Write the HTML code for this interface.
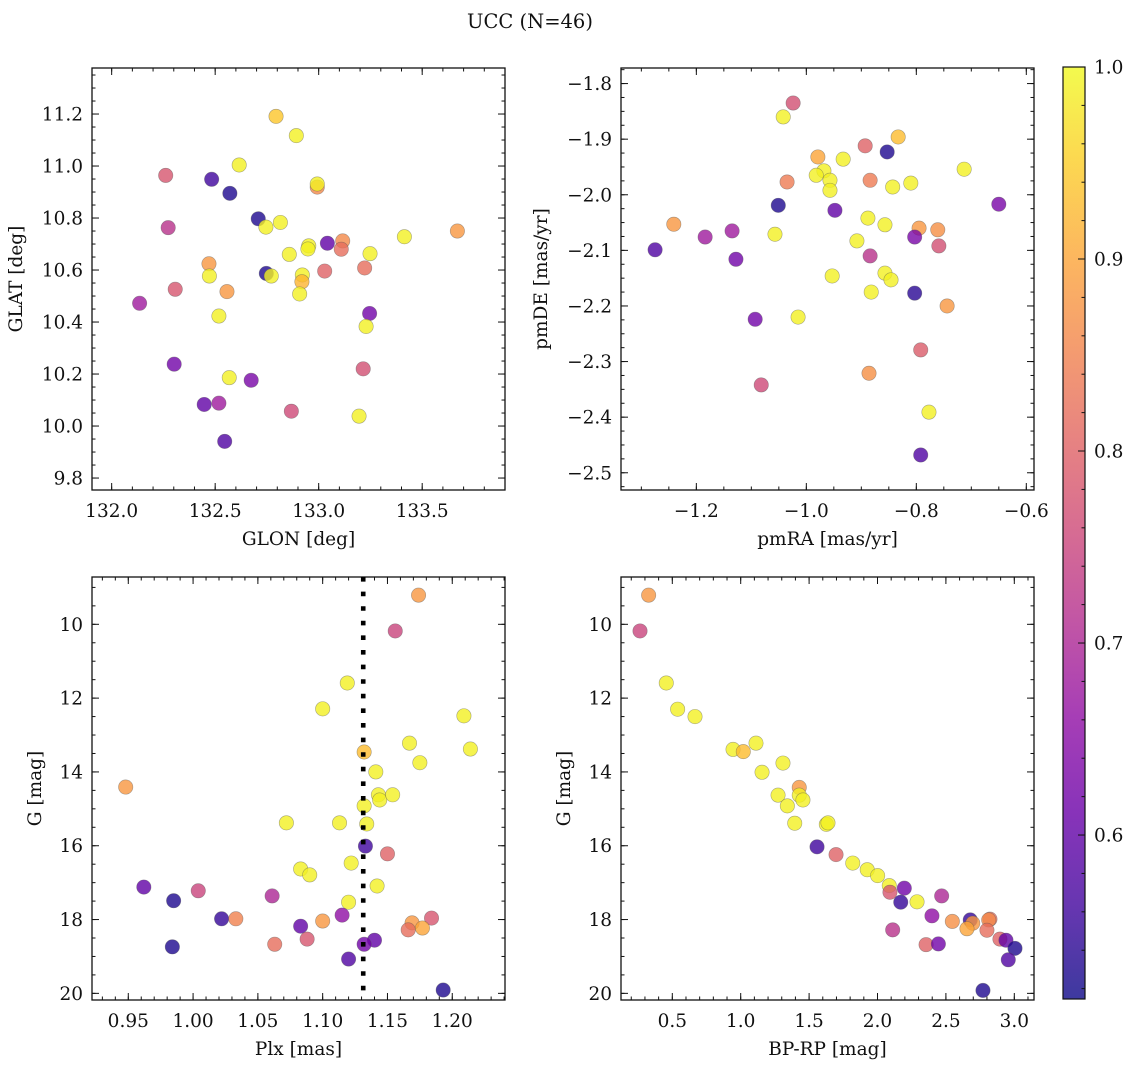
<!DOCTYPE html>
<html><head><meta charset="utf-8">
<style>
html,body{margin:0;padding:0;background:#fff;}
svg{display:block;font-family:"DejaVu Serif","Liberation Serif",serif;}
</style></head>
<body>
<svg id="fig" width="1135" height="1067" viewBox="0 0 1135 1067" xmlns="http://www.w3.org/2000/svg">
<text x="530" y="28" font-size="19.5" text-anchor="middle" fill="#111">UCC (N=46)</text>
</svg>
<script>
// ---------- data ----------
const p1_glon=[132.794,132.892,132.616,132.261,132.483,132.571,132.993,132.993,132.708,132.745,132.815,132.273,133.414,133.670,133.042,133.116,133.109,132.952,132.948,132.858,133.248,132.470,132.472,132.747,132.771,132.921,132.919,132.908,133.029,133.222,132.307,132.557,132.135,132.518,133.246,133.229,132.302,133.215,132.568,132.674,132.447,132.518,132.868,133.195,132.546];
const p1_glat=[11.191,11.117,11.004,10.964,10.949,10.895,10.919,10.931,10.797,10.765,10.783,10.763,10.728,10.750,10.703,10.712,10.680,10.693,10.681,10.660,10.663,10.624,10.577,10.587,10.577,10.581,10.555,10.508,10.596,10.608,10.526,10.517,10.472,10.423,10.433,10.383,10.238,10.220,10.186,10.176,10.083,10.088,10.057,10.038,9.941];
const p1_prob=[0.94,0.99,0.99,0.78,0.56,0.53,0.86,0.99,0.53,0.99,0.99,0.72,0.99,0.88,0.60,0.86,0.82,0.99,0.99,0.99,0.99,0.88,0.99,0.53,0.99,0.99,0.92,0.99,0.80,0.82,0.78,0.88,0.68,0.99,0.62,0.99,0.62,0.77,0.99,0.63,0.60,0.68,0.76,0.99,0.58];

const p2_pmra=[-1.024,-1.042,-0.833,-0.893,-0.853,-0.979,-0.933,-0.968,-0.982,-0.957,-0.957,-1.035,-0.884,-0.843,-0.810,-0.713,-1.051,-0.948,-0.650,-1.241,-1.184,-1.135,-1.275,-1.128,-1.057,-0.888,-0.857,-0.795,-0.761,-0.803,-0.759,-0.908,-0.884,-0.953,-0.857,-0.846,-0.882,-0.803,-0.744,-1.093,-1.015,-0.792,-0.886,-1.082,-0.777,-0.792];
const p2_pmde=[-1.835,-1.860,-1.896,-1.912,-1.923,-1.932,-1.936,-1.957,-1.965,-1.974,-1.992,-1.977,-1.974,-1.986,-1.979,-1.954,-2.019,-2.028,-2.017,-2.053,-2.076,-2.065,-2.099,-2.116,-2.071,-2.042,-2.054,-2.060,-2.063,-2.076,-2.092,-2.083,-2.110,-2.146,-2.141,-2.153,-2.175,-2.177,-2.200,-2.224,-2.220,-2.279,-2.321,-2.342,-2.391,-2.468];
const p2_prob=[0.77,0.99,0.93,0.80,0.53,0.90,0.99,0.99,0.99,0.99,0.99,0.84,0.84,0.99,0.99,0.99,0.53,0.60,0.63,0.88,0.68,0.68,0.58,0.62,0.99,0.99,0.99,0.88,0.87,0.63,0.77,0.99,0.72,0.99,0.99,0.99,0.99,0.54,0.88,0.62,0.99,0.79,0.87,0.76,0.99,0.58];

const p3_plx=[1.174,1.156,1.119,1.100,1.209,1.214,1.167,1.132,1.175,1.141,1.143,1.144,1.154,1.132,1.072,1.113,1.134,1.133,1.150,1.122,1.083,1.090,1.142,1.120,1.061,1.115,1.083,1.100,1.088,1.063,1.184,1.169,1.166,1.177,1.140,1.132,1.120,1.193,0.948,0.962,1.004,0.985,1.022,1.033,0.984];
const p3_g=[9.21,10.18,11.59,12.29,12.48,13.38,13.22,13.46,13.75,14.00,14.62,14.76,14.62,14.92,15.38,15.38,15.41,16.01,16.22,16.47,16.63,16.79,17.09,17.53,17.36,17.88,18.18,18.04,18.53,18.67,17.96,18.09,18.28,18.23,18.56,18.67,19.07,19.91,14.41,17.12,17.22,17.49,17.98,17.98,18.74];
const p3_prob=[0.88,0.75,0.99,0.99,0.99,0.99,0.99,0.93,0.99,0.99,0.99,0.99,0.99,0.99,0.99,0.99,0.99,0.56,0.80,0.99,0.99,0.99,0.99,0.99,0.70,0.66,0.60,0.88,0.78,0.82,0.78,0.88,0.82,0.90,0.60,0.62,0.58,0.53,0.88,0.60,0.75,0.53,0.55,0.85,0.53];
const p3_cut=[1.1313];

const p4_bprp=[0.327,0.264,0.456,0.539,0.666,0.944,1.019,1.112,1.156,1.309,1.428,1.428,1.455,1.273,1.341,1.395,1.626,1.638,1.558,1.697,1.819,1.925,2.001,2.086,2.091,2.196,2.170,2.289,2.469,2.398,2.547,2.678,2.696,2.654,2.822,2.813,2.800,2.111,2.355,2.445,2.895,2.939,3.005,2.956,2.771];
const p4_g=[9.21,10.18,11.59,12.30,12.50,13.39,13.45,13.22,14.01,13.76,14.42,14.63,14.76,14.63,14.92,15.39,15.42,15.38,16.03,16.24,16.47,16.65,16.81,17.08,17.26,17.15,17.53,17.52,17.36,17.90,18.05,18.01,18.10,18.25,17.99,18.01,18.29,18.28,18.68,18.66,18.53,18.56,18.78,19.09,19.92];
const p4_prob=[0.88,0.75,0.99,0.99,0.99,0.99,0.93,0.99,0.99,0.99,0.88,0.99,0.99,0.99,0.99,0.99,0.99,0.99,0.56,0.80,0.99,0.99,0.99,0.99,0.78,0.62,0.55,0.99,0.70,0.66,0.87,0.55,0.88,0.90,0.82,0.86,0.82,0.72,0.80,0.62,0.80,0.60,0.53,0.58,0.53];

const p1_xticks=[132.0,132.5,133.0,133.5];
const p1_yticks=[9.8,10.0,10.2,10.4,10.6,10.8,11.0,11.2];
const p2_xticks=[-1.2,-1.0,-0.8,-0.6];
const p2_yticks=[-2.5,-2.4,-2.3,-2.2,-2.1,-2.0,-1.9,-1.8];
const p3_xticks=[0.95,1.00,1.05,1.10,1.15,1.20];
const g_yticks=[10,12,14,16,18,20];
const p4_xticks=[0.5,1.0,1.5,2.0,2.5,3.0];
const cb_ticks=[0.6,0.7,0.8,0.9,1.0];
const vmin=0.5146, vmax=1.0;

// ---------- helpers ----------
const NS="http://www.w3.org/2000/svg";
const svg=document.getElementById('fig');
const FS=18.5;
function el(tag,attrs,parent){const e=document.createElementNS(NS,tag);for(const k in attrs)e.setAttribute(k,attrs[k]);(parent||svg).appendChild(e);return e;}
const plasma=[[13,8,135],[65,4,157],[106,0,168],[143,13,164],[177,42,144],[204,71,120],[225,100,98],[242,132,75],[252,166,54],[252,206,37],[240,249,33]];
function cmap(t){t=Math.max(0,Math.min(1,t));const s=t*10,i=Math.min(9,Math.floor(s)),f=s-i;const a=plasma[i],b=plasma[i+1];return 'rgb('+[0,1,2].map(k=>Math.round(a[k]+(b[k]-a[k])*f)).join(',')+')';}
function fmt(v,d){return v.toFixed(d).replace('-','\u2212');}

function makeAxes(name,box,xd,yd,xt,xminStep,xdec,yt,yminStep,ydec,xlabel,ylabel,ylabX){
  const sx=v=>box.x0+(v-xd[0])/(xd[1]-xd[0])*(box.x1-box.x0);
  const sy=v=>box.y0+(v-yd[0])/(yd[1]-yd[0])*(box.y1-box.y0);
  const g=el('g',{});
  
  
  const tk=el('g',{stroke:'#111','stroke-width':1},g);
  
  
  const xlo=Math.min(xd[0],xd[1]),xhi=Math.max(xd[0],xd[1]);
  for(let v=Math.ceil(xlo/xminStep-1e-6)*xminStep;v<=xhi+1e-9;v+=xminStep){
    const X=sx(v); el('line',{x1:X,x2:X,y1:box.y1,y2:box.y1-3.5},tk); el('line',{x1:X,x2:X,y1:box.y0,y2:box.y0+3.5},tk);
  }
  const ylo=Math.min(yd[0],yd[1]),yhi=Math.max(yd[0],yd[1]);
  for(let v=Math.ceil(ylo/yminStep-1e-6)*yminStep;v<=yhi+1e-9;v+=yminStep){
    const Y=sy(v); el('line',{x1:box.x0,x2:box.x0+3.5,y1:Y,y2:Y},tk); el('line',{x1:box.x1,x2:box.x1-3.5,y1:Y,y2:Y},tk);
  }
  xt.forEach(v=>{const X=sx(v);
    el('line',{x1:X,x2:X,y1:box.y1,y2:box.y1-7},tk); el('line',{x1:X,x2:X,y1:box.y0,y2:box.y0+7},tk);
    const t=el('text',{x:X,y:box.y1+27,'font-size':FS,'text-anchor':'middle',fill:'#111'},g);t.textContent=fmt(v,xdec);
    
    
  });
  yt.forEach(v=>{const Y=sy(v);
    el('line',{x1:box.x0,x2:box.x0+7,y1:Y,y2:Y},tk); el('line',{x1:box.x1,x2:box.x1-7,y1:Y,y2:Y},tk);
    const t=el('text',{x:box.x0-9,y:Y+6.5,'font-size':FS,'text-anchor':'end',fill:'#111'},g);t.textContent=fmt(v,ydec);
    
    
  });
  const fr=el('rect',{x:box.x0,y:box.y0,width:box.x1-box.x0,height:box.y1-box.y0,fill:'none',stroke:'#111','stroke-width':1.3},g);
  
  
  const xl=el('text',{x:(box.x0+box.x1)/2,y:box.y1+55,'font-size':FS,'text-anchor':'middle',fill:'#111'},g);xl.textContent=xlabel;
  
  
  const cy=(box.y0+box.y1)/2;
  const yl=el('text',{x:ylabX,y:cy,'font-size':FS,'text-anchor':'middle',fill:'#111',transform:'rotate(-90 '+ylabX+' '+cy+')'},g);yl.textContent=ylabel;
  
  
  return {sx,sy,g};
}
function scatter(name,ax,xs,ys,ps){
  const g=el('g',{},ax.g);
  
  
  xs.forEach((x,i)=>{
    const c=el('circle',{cx:ax.sx(x),cy:ax.sy(ys[i]),r:7.2,fill:cmap((ps[i]-vmin)/(vmax-vmin)),'fill-opacity':0.8,stroke:'#555','stroke-opacity':0.5,'stroke-width':0.6},g);
    
    
  });
}

// ---------- panels ----------
const a1=makeAxes('glon-glat',{x0:92,x1:505,y0:68,y1:490},[131.905,133.9],[11.377,9.754],p1_xticks,0.1,1,p1_yticks,0.05,1,'GLON [deg]','GLAT [deg]',22);
scatter('glon-glat',a1,p1_glon,p1_glat,p1_prob);
const a2=makeAxes('pm',{x0:621,x1:1034,y0:68,y1:490},[-1.337,-0.586],[-1.772,-2.531],p2_xticks,0.05,1,p2_yticks,0.025,1,'pmRA [mas/yr]','pmDE [mas/yr]',547);
scatter('pm',a2,p2_pmra,p2_pmde,p2_prob);
const a3=makeAxes('plx-g',{x0:92,x1:505,y0:577,y1:1000},[0.922,1.2407],[8.718,20.18],p3_xticks,0.01,2,g_yticks,0.5,0,'Plx [mas]','G [mag]',41);
scatter('plx-g',a3,p3_plx,p3_g,p3_prob);
p3_cut.forEach(v=>{
  const l=el('line',{x1:a3.sx(v),x2:a3.sx(v),y1:577,y2:1000,stroke:'#000','stroke-width':4.6,'stroke-dasharray':'4.6 10'},a3.g);
  
  
});
const a4=makeAxes('cmd',{x0:621,x1:1034,y0:577,y1:1000},[0.125,3.144],[8.718,20.18],p4_xticks,0.1,1,g_yticks,0.5,0,'BP-RP [mag]','G [mag]',570);
scatter('cmd',a4,p4_bprp,p4_g,p4_prob);

// ---------- colorbar ----------
const cb={x0:1063,x1:1085,y0:67,y1:999};
const defs=el('defs',{});
const grad=el('linearGradient',{id:'plasmaGrad',x1:0,y1:1,x2:0,y2:0},defs);
plasma.forEach((c,i)=>el('stop',{offset:(i*10)+'%','stop-color':'rgb('+c.join(',')+')'},grad));
const cbg=el('g',{});


el('rect',{x:cb.x0,y:cb.y0,width:cb.x1-cb.x0,height:cb.y1-cb.y0,fill:'url(#plasmaGrad)','fill-opacity':0.8},cbg);
const cby=v=>cb.y1-(v-vmin)/(vmax-vmin)*(cb.y1-cb.y0);
for(let v=0.52;v<=1.0001;v+=0.02){const Y=cby(v);el('line',{x1:cb.x1,x2:cb.x1-3.5,y1:Y,y2:Y,stroke:'#111','stroke-width':1},cbg);}
cb_ticks.forEach(v=>{const Y=cby(v);
  el('line',{x1:cb.x1,x2:cb.x1-7,y1:Y,y2:Y,stroke:'#111','stroke-width':1},cbg);
  const t=el('text',{x:cb.x1+9,y:Y+6.5,'font-size':FS,fill:'#111'},cbg);t.textContent=v.toFixed(1);
  
  
});
el('rect',{x:cb.x0,y:cb.y0,width:cb.x1-cb.x0,height:cb.y1-cb.y0,fill:'none',stroke:'#111','stroke-width':1.2},cbg);
</script>
</body></html>
